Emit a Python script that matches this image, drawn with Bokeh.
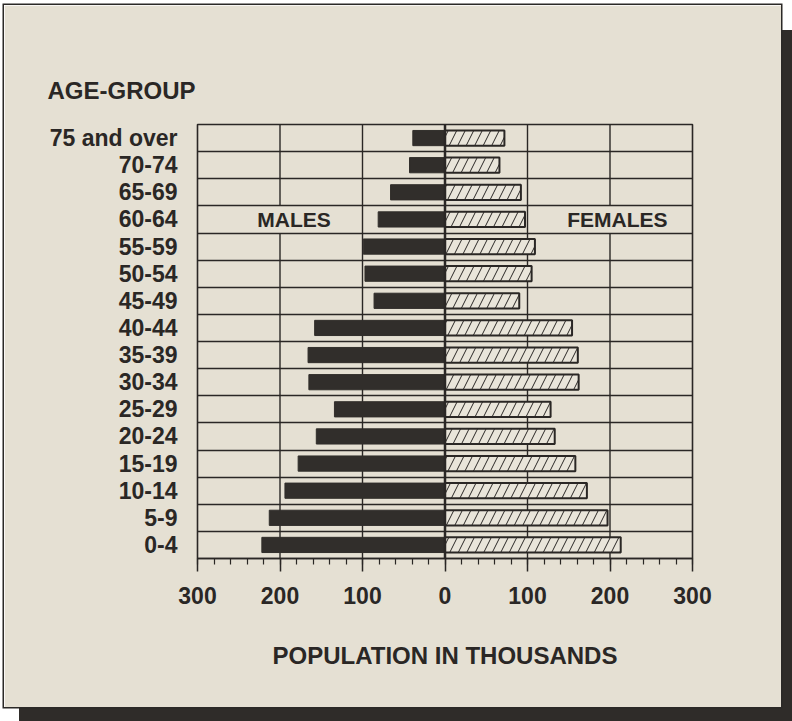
from bokeh.plotting import figure
from bokeh.models import (Range1d, FixedTicker, SingleIntervalTicker, Label, Span,
                          ColumnDataSource)
from bokeh.embed import file_html
from bokeh.resources import INLINE

# ---------------- data (bottom to top) ----------------
age_groups = ["0-4", "5-9", "10-14", "15-19", "20-24", "25-29", "30-34", "35-39",
              "40-44", "45-49", "50-54", "55-59", "60-64", "65-69", "70-74", "75 and over"]
males = [222, 213, 194, 178, 156, 134, 165, 166, 158, 86, 97, 99, 81, 66, 43, 39]
females = [213, 197, 172, 158, 133, 128, 162, 161, 154, 90, 105, 109, 97, 92, 66, 72]
x_ticks = [-300, -200, -100, 0, 100, 200, 300]
x_axis_title = "POPULATION IN THOUSANDS"
y_axis_title = "AGE-GROUP"
left_text = "MALES"
right_text = "FEMALES"
text_row = "60-64"

# ---------------- style ----------------
BG = "#e5e0d3"
INK = "#2a2725"
BAR = "#312e2b"
FONT = "Liberation Sans"

n = len(age_groups)
ys = list(range(n))
src = ColumnDataSource(dict(y=ys, m=[-v for v in males], f=females, zero=[0] * n))

p = figure(width=777, height=702,
           x_range=Range1d(x_ticks[0], x_ticks[-1]), y_range=Range1d(-0.5, n - 0.5),
           output_backend="svg", toolbar_location=None,
           min_border_left=193, min_border_right=89, min_border_top=119, min_border_bottom=149)
p.background_fill_color = BG
p.border_fill_color = BG
p.outline_line_color = INK
p.outline_line_width = 1.6
p.styles = {"margin-left": "4px", "margin-top": "5px",
            "box-shadow": "0 0 0 1.5px #2b2927, 15px 25px 0 0 #2f2c29"}

# title (AGE-GROUP)
p.title.text = y_axis_title
p.title.align = "left"
p.title.offset = -150
p.title.standoff = 41
p.title.text_font = FONT
p.title.text_font_style = "bold"
p.title.text_font_size = "24px"
p.title.text_color = INK

# grid
p.xgrid.ticker = FixedTicker(ticks=[t for t in x_ticks if abs(t) == 100])
p.ygrid.ticker = FixedTicker(ticks=[i + 0.5 for i in range(n - 1)])
for g in (p.xgrid, p.ygrid):
    g.grid_line_color = INK
    g.grid_line_width = 1.4
    g.grid_line_alpha = 1.0

r_idx = age_groups.index(text_row)
seg_x = [t for t in x_ticks if abs(t) == 200]
x0, y0, y1 = [], [], []
for gx in seg_x:
    x0 += [gx, gx]
    y0 += [-0.5, r_idx + 0.5]
    y1 += [r_idx - 0.5, n - 0.5]
seg = p.segment(x0=x0, y0=y0, x1=x0, y1=y1, line_color=INK, line_width=1.4)
seg.level = "underlay"

# bars
p.hbar(y="y", left="m", right="zero", height=0.56, source=src,
       fill_color=BAR, line_color=BAR, line_width=1)
p.hbar(y="y", left="zero", right="f", height=0.56, source=src,
       fill_color="#e9e5da", line_color=INK, line_width=2,
       hatch_pattern="/", hatch_color=INK, hatch_scale=17, hatch_weight=1.0)

p.add_layout(Span(location=0, dimension="height", line_color=INK, line_width=2.5))

# axes
xa = p.xaxis[0]
xa.ticker = SingleIntervalTicker(interval=100, num_minor_ticks=5)
xa.major_label_overrides = {t: str(abs(t)) for t in x_ticks}
xa.axis_line_color = INK
xa.axis_line_width = 1.6
xa.major_tick_line_color = INK
xa.major_tick_line_width = 1.5
xa.major_tick_out = 13
xa.major_tick_in = 0
xa.minor_tick_line_color = INK
xa.minor_tick_line_width = 1.2
xa.minor_tick_out = 6
xa.minor_tick_in = 0
xa.major_label_standoff = 15
xa.major_label_text_font = FONT
xa.major_label_text_font_style = "bold"
xa.major_label_text_font_size = "23px"
xa.major_label_text_color = INK
xa.axis_label = x_axis_title
xa.axis_label_text_font = FONT
xa.axis_label_text_font_style = "bold"
xa.axis_label_text_font_size = "24px"
xa.axis_label_text_color = INK
xa.axis_label_standoff = 35

ya = p.yaxis[0]
ya.ticker = FixedTicker(ticks=ys)
ya.major_label_overrides = {i: g for i, g in enumerate(age_groups)}
ya.axis_line_color = None
ya.major_tick_line_color = None
ya.minor_tick_line_color = None
ya.major_label_standoff = 14
ya.major_label_text_font = FONT
ya.major_label_text_font_style = "bold"
ya.major_label_text_font_size = "23px"
ya.major_label_text_color = INK

# texts
p.add_layout(Label(x=-183, y=r_idx, text=left_text, text_align="center",
                   text_baseline="middle", text_font=FONT, text_font_style="bold",
                   text_font_size="21px", text_color=INK))
p.add_layout(Label(x=209, y=r_idx, text=right_text, text_align="center",
                   text_baseline="middle", text_font=FONT, text_font_style="bold",
                   text_font_size="21px", text_color=INK))

open("out.html", "w").write(file_html(p, INLINE))
